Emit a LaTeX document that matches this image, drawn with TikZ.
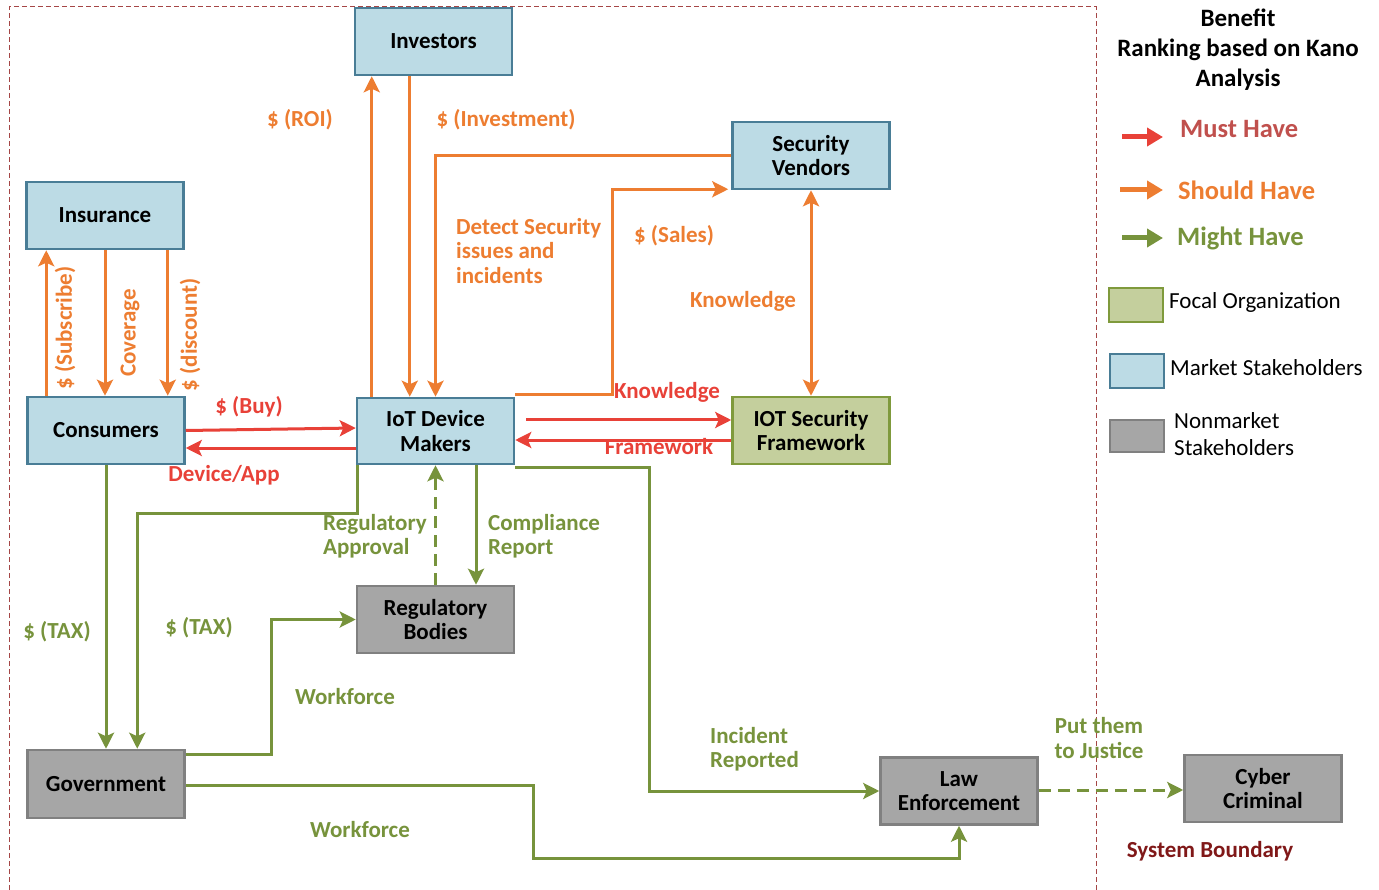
\documentclass[tikz,border=0pt]{standalone}
\usepackage{fontspec}
\setmainfont{Carlito}
\usetikzlibrary{arrows.meta,calc}
\definecolor{cred}{RGB}{232,65,56}
\definecolor{corange}{RGB}{237,125,49}
\definecolor{cgreen}{RGB}{119,147,60}
\definecolor{cmust}{RGB}{192,80,77}
\definecolor{cblue}{RGB}{188,219,229}
\definecolor{cblueb}{RGB}{73,125,150}
\definecolor{cfocal}{RGB}{196,207,157}
\definecolor{cfocalb}{RGB}{127,154,60}
\definecolor{cgray}{RGB}{166,166,166}
\definecolor{cgrayb}{RGB}{128,128,128}
\definecolor{cbound}{RGB}{165,70,70}
\definecolor{csys}{RGB}{128,24,24}
\begin{document}
\begin{tikzpicture}[x=1pt,y=-1pt,
  box/.style={draw, line width=2.5pt, minimum width=157pt, minimum height=67pt, inner sep=0pt, align=center, font=\fontsize{23}{24.5}\selectfont\bfseries},
  mkt/.style={box, fill=cblue, draw=cblueb},
  focal/.style={box, fill=cfocal, draw=cfocalb},
  nonmkt/.style={box, fill=cgray, draw=cgrayb},
  tip/.tip={Stealth[length=16pt,width=16pt,inset=3.5pt]},
  conn/.style={line width=3pt, -tip},
  must/.style={conn, draw=cred},
  should/.style={conn, draw=corange},
  might/.style={conn, draw=cgreen},
  lbl/.style={font=\fontsize{23}{24.5}\selectfont\bfseries, inner sep=0pt},
  lred/.style={lbl, text=cred},
  lorange/.style={lbl, text=corange},
  lgreen/.style={lbl, text=cgreen},
  legtxt/.style={font=\fontsize{23}{27}\selectfont, inner sep=0pt, anchor=west, align=left},
  legarrow/.style={line width=5pt, -{Triangle[length=16pt,width=18pt]}},
  legbox/.style={draw, line width=2pt, minimum width=54pt, minimum height=34pt, inner sep=0pt},
  legkey/.style={lbl, anchor=west, font=\fontsize{26.5}{28}\selectfont\bfseries},
]
\useasboundingbox (0,0) rectangle (1379,890);

% system boundary
\draw[cbound, line width=1pt, dash pattern=on 5pt off 3pt] (9,890) -- (9,7) -- (1096,7) -- (1096,890);

% nodes
\node[mkt] (inv) at (433.5,41.5) {Investors};
\node[mkt] (secv) at (811,155.5) {Security\\Vendors};
\node[mkt] (ins) at (105,215.5) {Insurance};
\node[mkt] (cons) at (106,430.5) {Consumers};
\node[mkt, minimum height=66pt] (iot) at (435.5,431) {IoT Device\\Makers};
\node[focal] (isf) at (811,430.5) {IOT Security\\Framework};
\node[nonmkt] (reg) at (435.5,619.5) {Regulatory\\Bodies};
\node[nonmkt, minimum height=68pt] (gov) at (106,784) {Government};
\node[nonmkt] (law) at (959,791) {Law\\Enforcement};
\node[nonmkt] (cc) at (1263,788.5) {Cyber\\Criminal};

% insurance <-> consumers
\draw[should] ($(cons.north west)+(20,0)$) -- ($(ins.south west)+(21,0)$);
\draw[should] (ins.south) -- (cons.north -| ins.south);
\draw[should] ($(ins.south east)+(-17,0)$) -- ($(cons.north east)+(-18,0)$);
\node[lorange, rotate=90] (lsub) at (65,328) {\$ (Subscribe)};
\node[lorange, rotate=90] (lcov) at (130,333) {Coverage};
\node[lorange, rotate=90] (ldis) at (190,335) {\$ (discount)};

% investors
\draw[should] ($(iot.north west)+(16,0)$) -- ($(inv.south west)+(18,0)$);
\draw[should] ($(inv.south west)+(56,0)$) -- ($(iot.north west)+(54,0)$);
\node[lorange] (lroi) at (300,120) {\$ (ROI)};
\node[lorange] (linv) at (506,120) {\$ (Investment)};

% security vendors
\draw[should] (secv.west) -| (iot.north);
\node[lorange, anchor=west, align=left] (ldet) at (456,251) {Detect Security\\issues and\\incidents};
\draw[should] ($(iot.north east)+(0,-2)$) -- ++(97,0) |- ($(secv.south west)+(-3,-1)$);
\node[lorange] (lsal) at (674,236) {\$ (Sales)};
\draw[should, tip-tip] (secv.south) -- (isf.north);
\node[lorange] (lkn1) at (743,301) {Knowledge};

% framework
\draw[must] ($(iot.east)+(11,-11)$) -- ($(isf.west)+(0,-10.5)$);
\draw[must] ($(isf.west)+(0,9.5)$) -- ($(iot.east)+(0,9)$);
\node[lred] (lkn2) at (667,392) {Knowledge};
\node[lred] (lfw) at (659,447) {Framework};

% consumers <-> iot
\draw[must] (cons.east) -- ($(iot.west)+(0,-3)$);
\draw[must] ($(iot.west)+(0,17)$) -- ($(cons.east)+(0,17.5)$);
\node[lred] (lbuy) at (249,407) {\$ (Buy)};
\node[lred] (ldev) at (224,475) {Device/App};

% government
\draw[might] (cons.south) -- (gov.north);
\node[lgreen] (ltax1) at (57,632) {\$ (TAX)};
\draw[might] ($(iot.south west)+(2,0)$) -- ++(0,48) -| ($(gov.north west)+(111,0)$);
\node[lgreen] (ltax2) at (199,628) {\$ (TAX)};
\draw[might] ($(gov.north east)+(0,6)$) -- ++(86,0) |- (reg.west);
\node[lgreen] (lwf1) at (345,697) {Workforce};

% regulatory
\draw[might, dash pattern=on 12pt off 7pt] (reg.north) -- (iot.south);
\node[lgreen, anchor=west, align=left] (lapp) at (323,536) {Regulatory\\Approval};
\draw[might] ($(iot.south)+(40.5,0)$) -- ($(reg.north)+(40.5,0)$);
\node[lgreen, anchor=west, align=left] (lcomp) at (488,536) {Compliance\\Report};

% law enforcement
\draw[might] ($(iot.south east)+(0,2)$) -- ++(134,0) |- (law.west);
\node[lgreen, anchor=west, align=left] (linc) at (710,749) {Incident\\Reported};
\draw[might] ($(gov.east)+(0,1)$) -- ++(348,0) -- ++(0,73) -| (law.south);
\node[lgreen] (lwf2) at (360,830) {Workforce};
\draw[might, dash pattern=on 12pt off 7pt] ($(law.east)+(0,-1)$) -- ($(cc.west)+(0,1.5)$);
\node[lgreen, align=center] (ljus) at (1099,738) {Put them\\to Justice};

\node[lbl, text=csys] (lsys) at (1210,851) {System Boundary};

% legend
\node[font=\fontsize{25}{30}\selectfont\bfseries, align=center, inner sep=0pt] (ltitle) at (1238,50) {Benefit\\Ranking based on Kano\\Analysis};
\coordinate (m1) at (1122,137); \coordinate (m2) at (1163,137);
\coordinate (s1) at (1120,190); \coordinate (s2) at (1163,190);
\coordinate (g1) at (1122,238); \coordinate (g2) at (1163,238);
\draw[legarrow, draw=cred] (m1) -- (m2);
\draw[legarrow, draw=corange] (s1) -- (s2);
\draw[legarrow, draw=cgreen] (g1) -- (g2);
\node[legkey, text=cmust] (lmust) at (1180,129) {Must Have};
\node[legkey, text=corange] (lshould) at (1178,190) {Should Have};
\node[legkey, text=cgreen] (lmight) at (1177,238) {Might Have};
\node[legbox, fill=cfocal, draw=cfocalb] (bf) at (1136,305) {};
\node[legbox, fill=cblue, draw=cblueb] (bm) at (1137,371) {};
\node[legbox, fill=cgray, draw=cgrayb, minimum height=32pt] (bn) at (1137,436) {};
\node[legtxt] (tf) at (1169,302) {Focal Organization};
\node[legtxt] (tm) at (1170,368) {Market Stakeholders};
\node[legtxt] (tn) at (1174,434) {Nonmarket\\Stakeholders};
\end{tikzpicture}
\end{document}
